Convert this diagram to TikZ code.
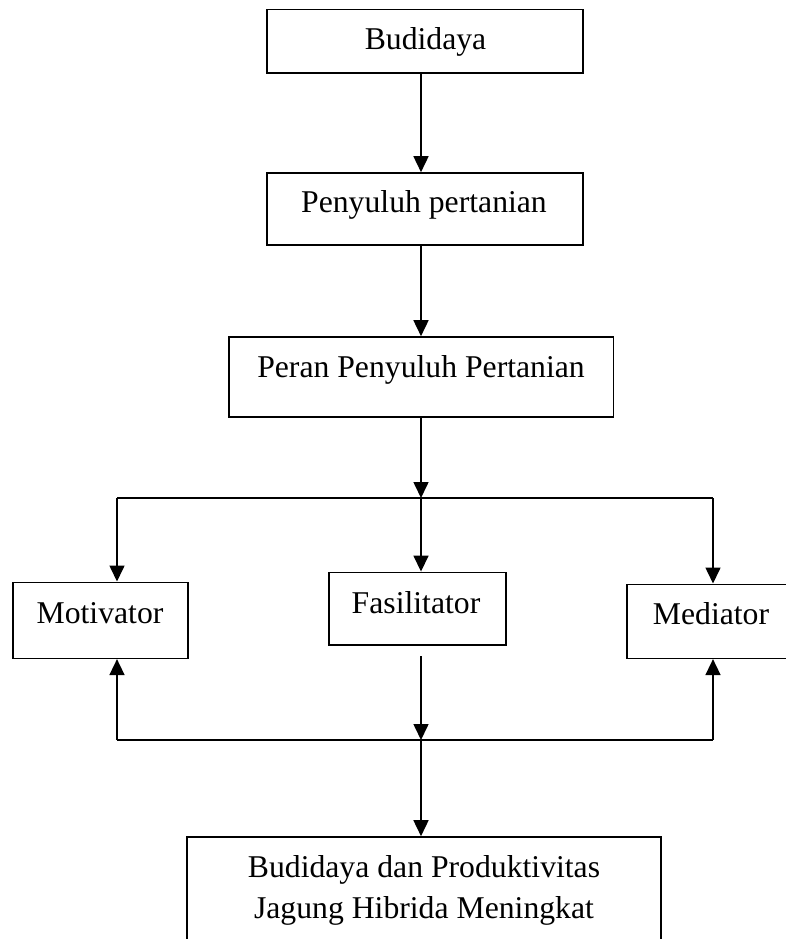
\documentclass[tikz,border=0pt]{standalone}
\usepackage{fontspec}
\setmainfont{Liberation Serif}
\usetikzlibrary{arrows.meta}
\begin{document}
\begin{tikzpicture}[x=1pt,y=-1pt,
  box/.style={draw=black, line width=1.6pt, rectangle, inner sep=0pt},
  txt/.style={inner sep=0pt, anchor=base, font=\fontsize{31.7}{38}\selectfont},
  conn/.style={line width=1.6pt},
  arr/.style={line width=1.6pt, -{Triangle[length=16pt,width=15pt]}}]
\useasboundingbox (0,0) rectangle (786,939);
\fill[white] (0,0) rectangle (786,939);
\clip (0,0) rectangle (786,939);
% boxes
\node[box, minimum width=316.3pt, minimum height=63.7pt] (b1) at (425,41.2) {};
\node[box, minimum width=316.3pt, minimum height=72pt] (b2) at (425,209) {};
\node[box, minimum width=384.3pt, minimum height=80pt] (b3) at (421.2,377) {};
\node[box, minimum width=175pt, minimum height=76pt] (mot) at (100.2,620.3) {};
\node[box, minimum width=177pt, minimum height=72.7pt] (fas) at (417.5,608.7) {};
\node[box, minimum width=173pt, minimum height=74pt] (med) at (713.5,621.3) {};
\node[box, minimum width=474pt, minimum height=133pt] (bot) at (424,903.5) {};
% texts
\node[txt] (t1) at (425.5,50) {Budidaya};
\node[txt] (t2) at (424,212.5) {Penyuluh pertanian};
\node[txt] (t3) at (421,377) {Peran Penyuluh Pertanian};
\node[txt] (tm) at (100,623) {Motivator};
\node[txt] (tf) at (416,613) {Fasilitator};
\node[txt] (td) at (711,624) {Mediator};
\node[txt] (tb1) at (424,877) {Budidaya dan Produktivitas};
\node[txt] (tb2) at (424,918) {Jagung Hibrida Meningkat};
% junction coordinates
\coordinate (cx) at (421,0);
\coordinate (j1) at (421,498);
\coordinate (jl) at (117,498);
\coordinate (jr) at (713,498);
\coordinate (fs) at (421,656);
\coordinate (j2) at (421,740);
\coordinate (kl) at (117,740);
\coordinate (kr) at (713,740);
% connectors
\draw[arr] (b1.south -| cx) -- (b2.north -| cx);
\draw[arr] (b2.south -| cx) -- (b3.north -| cx);
\draw[arr] (b3.south -| cx) -- (j1);
\draw[conn] (jl) -- (jr);
\draw[arr] (jl) -- (mot.north -| jl);
\draw[arr] (j1) -- (fas.north -| j1);
\draw[arr] (jr) -- (med.north -| jr);
\draw[arr] (fs) -- (j2);
\draw[conn] (kl) -- (kr);
\draw[arr] (kl) -- (mot.south -| kl);
\draw[arr] (kr) -- (med.south -| kr);
\draw[arr] (j2) -- (bot.north -| j2);
\end{tikzpicture}
\end{document}
